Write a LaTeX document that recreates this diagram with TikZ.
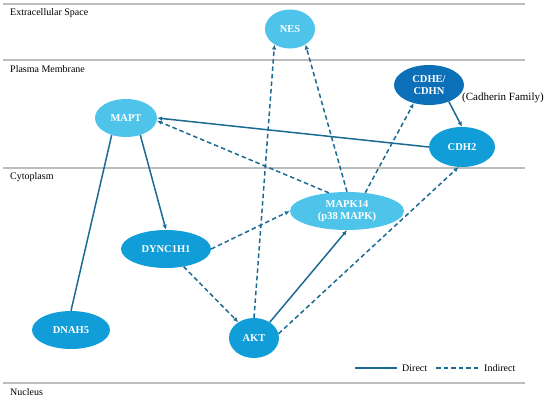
\documentclass[tikz,border=0pt]{standalone}
\usepackage{fontspec}
\setmainfont{Liberation Serif}
\usetikzlibrary{shapes.geometric,arrows.meta}
\definecolor{lightb}{HTML}{4FC4EB}
\definecolor{midb}{HTML}{109DD8}
\definecolor{darkb}{HTML}{0B70B8}
\definecolor{edgec}{HTML}{1B6A92}
\definecolor{sepc}{HTML}{BDBDBD}
\tikzset{
  gene/.style={ellipse, inner sep=0pt, text=white, align=center,
    font=\fontsize{10.5}{11.5}\selectfont\bfseries},
  light/.style={gene, fill=lightb},
  mid/.style={gene, fill=midb},
  dark/.style={gene, fill=darkb},
  sep/.style={draw=sepc, line width=1.2pt},
  region/.style={anchor=west, inner sep=0pt, font=\fontsize{10}{12}\selectfont},
  direct/.style={draw=edgec, line width=1.5pt},
  indirect/.style={draw=edgec, line width=1.5pt, dash pattern=on 4.5pt off 3pt},
  tip/.style={-{Latex[length=5pt,width=4.5pt]}},
}
\begin{document}
\begin{tikzpicture}[x=1pt,y=-1pt]
\useasboundingbox (0,0) rectangle (550,400);
% separators
\draw[sep] (3,4) -- (525,4);
\draw[sep] (3,60) -- (525,60);
\draw[sep] (3,168) -- (525,168);
\draw[sep] (3,383) -- (525,383);
\node[region] (ext) at (10,13) {Extracellular Space};
\node[region] (pm) at (10,69) {Plasma Membrane};
\node[region] (cyto) at (10,177) {Cytoplasm};
\node[region] (nuc) at (10,392) {Nucleus};
% nodes
\node[light, minimum width=50pt, minimum height=39pt] (NES) at (290,29) {NES};
\node[light, minimum width=62pt, minimum height=38pt] (MAPT) at (126,118) {MAPT};
\node[dark, minimum width=70pt, minimum height=40pt] (CDHE) at (429,85) {CDHE/\\CDHN};
\node[region, font=\fontsize{11}{13}\selectfont] (fam) at (462,98) {(Cadherin Family)};
\node[mid, minimum width=66pt, minimum height=40pt] (CDH2) at (462,147) {CDH2};
\node[light, minimum width=114pt, minimum height=38pt] (MAPK) at (347,211) {MAPK14\\(p38 MAPK)};
\node[mid, minimum width=90pt, minimum height=38pt] (DYNC) at (166,249) {DYNC1H1};
\node[mid, minimum width=78pt, minimum height=38pt] (DNAH) at (71,330) {DNAH5};
\node[mid, minimum width=50pt, minimum height=40pt] (AKT) at (254,338) {AKT};
% edges
\draw[direct, tip] (CDH2.west) -- (MAPT.east);
\draw[indirect, tip] (MAPK.135) -- (MAPT.-5);
\draw[direct, tip] (MAPT.-50) -- (DYNC.north);
\draw[direct] (MAPT.-130) -- (DNAH.north);
\draw[indirect, tip] (DYNC.east) -- (MAPK.west);
\draw[indirect, tip] (DYNC.-45) -- (AKT.135);
\draw[indirect, tip] (AKT.north) -- (NES.-135);
\draw[indirect, tip] (MAPK.north) -- (NES.-45);
\draw[indirect, tip] (MAPK.45) -- (CDHE.-130);
\draw[direct, tip] (CDHE.-40) -- (CDH2.north);
\draw[direct, tip] (AKT.45) -- (MAPK.south);
\draw[indirect, tip] (AKT.10) -- (CDH2.-100);
% legend
\coordinate (l1a) at (355,368);
\coordinate (l1b) at (397,368);
\coordinate (l2a) at (436,368);
\coordinate (l2b) at (478,368);
\draw[direct] (l1a) -- (l1b);
\node[region] (ldir) at (402,368) {Direct};
\draw[indirect] (l2a) -- (l2b);
\node[region] (lind) at (484,368) {Indirect};
\end{tikzpicture}
\end{document}
